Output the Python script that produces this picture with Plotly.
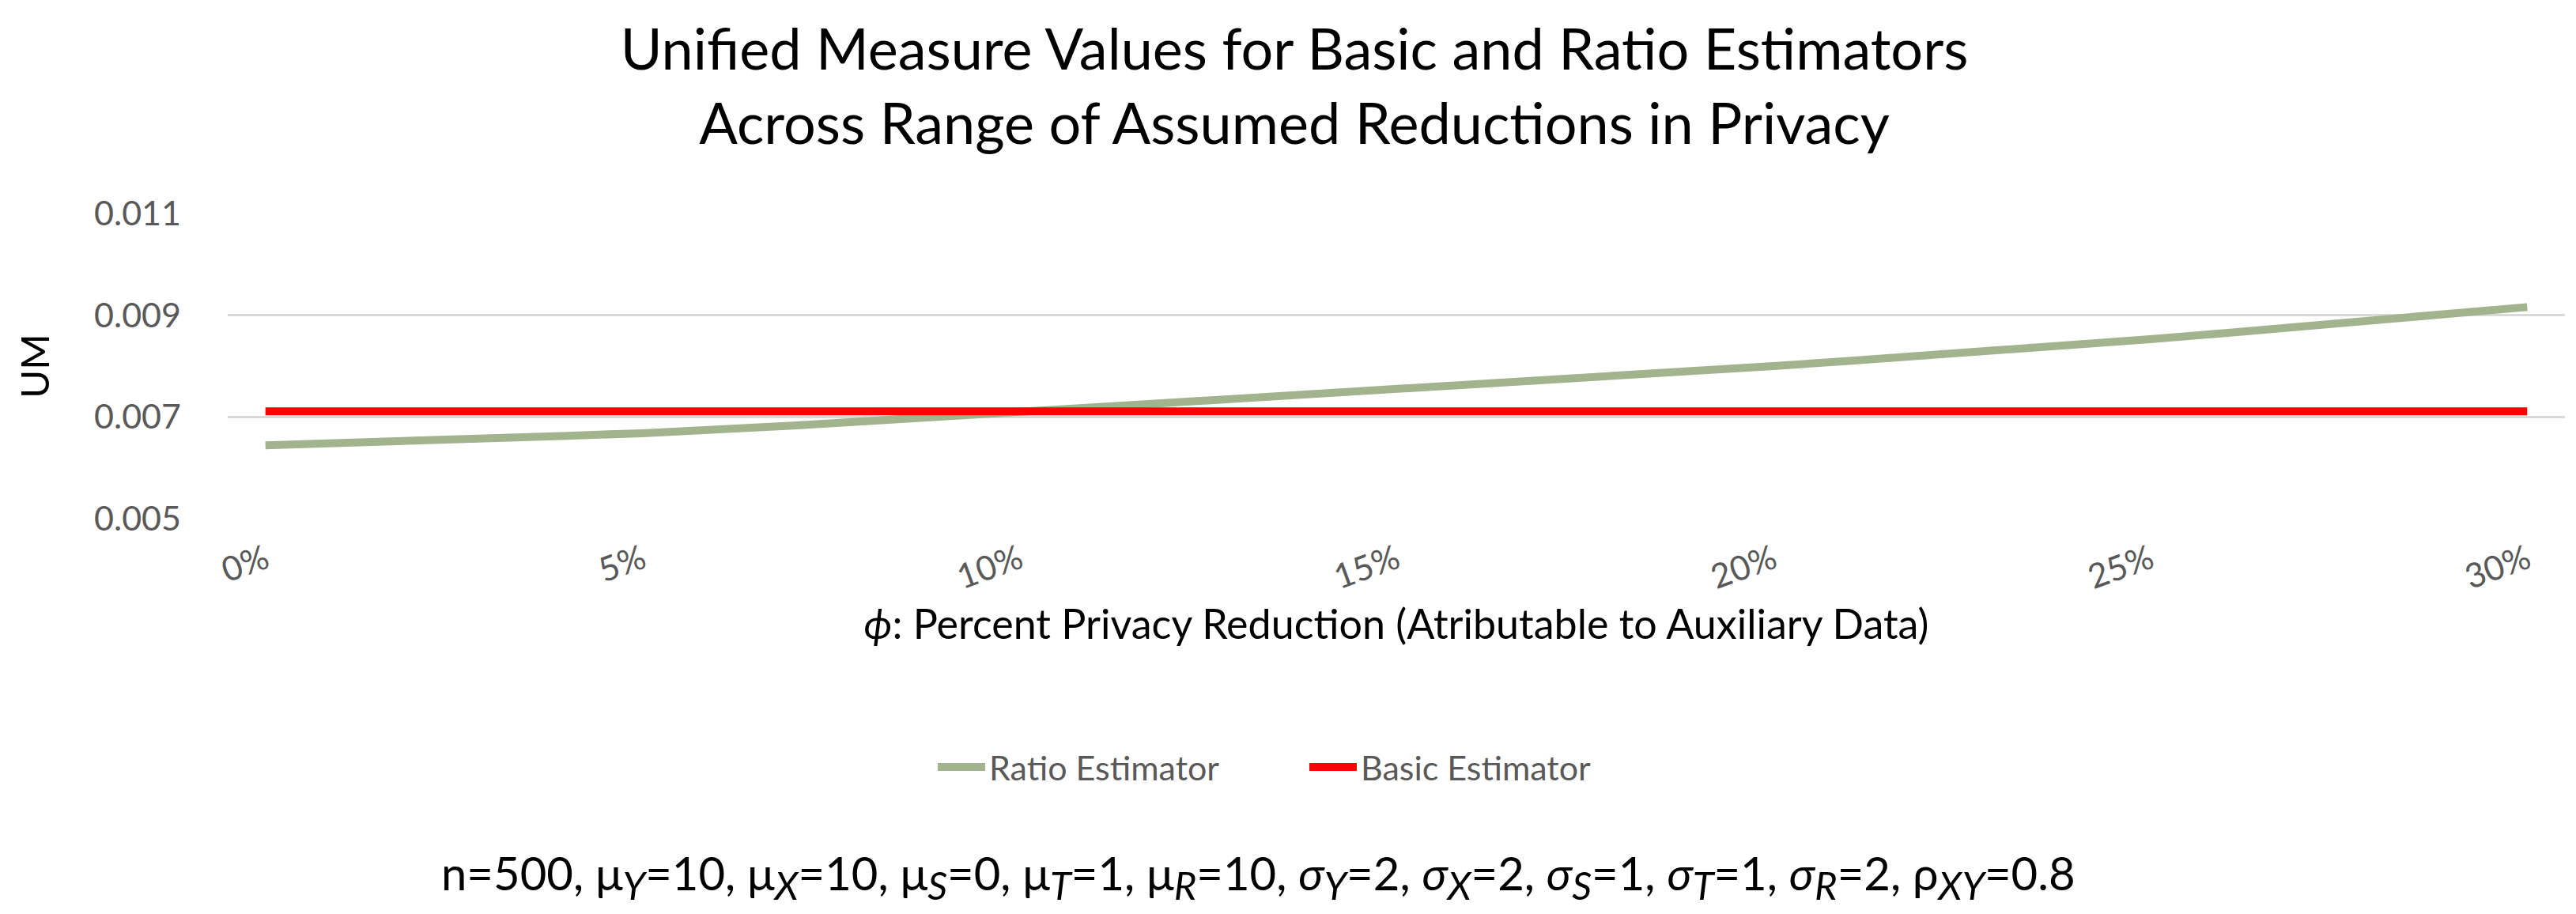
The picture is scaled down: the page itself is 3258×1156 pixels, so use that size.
import plotly.graph_objects as go

# ---- data ----
phi_percent = [0, 1, 2, 3, 4, 5, 6, 7, 8, 9, 10, 11, 12, 13, 14, 15,
               16, 17, 18, 19, 20, 21, 22, 23, 24, 25, 26, 27, 28, 29, 30]
ratio_um = [0.00644, 0.00648, 0.00653, 0.00658, 0.00663, 0.00668, 0.00674,
            0.00683, 0.00692, 0.00701, 0.00710, 0.00718, 0.00726, 0.00734,
            0.00743, 0.00752, 0.00761, 0.00771, 0.00781, 0.00790, 0.00800,
            0.00810, 0.00820, 0.00830, 0.00841, 0.00853, 0.00865, 0.00878,
            0.00890, 0.00903, 0.00916]
basic_um = [0.00711, 0.00711, 0.00711, 0.00711, 0.00711, 0.00711, 0.00711,
            0.00711, 0.00711, 0.00711, 0.00711, 0.00711, 0.00711, 0.00711,
            0.00711, 0.00711, 0.00711, 0.00711, 0.00711, 0.00711, 0.00711,
            0.00711, 0.00711, 0.00711, 0.00711, 0.00711, 0.00711, 0.00711,
            0.00711, 0.00711, 0.00711]
x_tick_vals = [0, 5, 10, 15, 20, 25, 30]
x_tick_text = ["0%", "5%", "10%", "15%", "20%", "25%", "30%"]
y_tick_vals = [0.005, 0.007, 0.009, 0.011]
y_tick_text = ["0.005", "0.007", "0.009", "0.011"]
series_names = ["Ratio Estimator", "Basic Estimator"]

W, H = 3258, 1156
L, R, T, B = 280, 22, 262, 508
FONT = "Lato, 'Noto Sans', sans-serif"
GREY = "#595959"

def px_to_paper_x(px):
    return (px - L) / (W - L - R)

def px_to_paper_y(py):
    return (H - B - py) / (H - T - B)

fig = go.Figure()
fig.add_trace(go.Scatter(x=phi_percent, y=ratio_um, mode="lines",
                         name=series_names[0],
                         line=dict(color="#A2B48D", width=10)))
fig.add_trace(go.Scatter(x=phi_percent, y=basic_um, mode="lines",
                         name=series_names[1],
                         line=dict(color="#FF0000", width=10)))

fig.update_layout(
    width=W, height=H, autosize=False,
    margin=dict(l=L, r=R, t=T, b=B),
    paper_bgcolor="white", plot_bgcolor="white",
    font=dict(family=FONT, color=GREY),
    title=dict(text="Unified Measure Values for Basic and Ratio Estimators<br>"
                    "Across Range of Assumed Reductions in Privacy",
               x=0.5, xref="container", xanchor="center",
               y=1 - 80 / H, yref="container", yanchor="top",
               font=dict(family=FONT, size=72, color="#000000")),
    showlegend=True,
    legend=dict(orientation="h", xref="container", x=1173 / W, xanchor="left",
                yref="container", y=1 - 962 / H, yanchor="middle",
                font=dict(family=FONT, size=43, color=GREY),
                itemwidth=60, entrywidth=395, entrywidthmode="pixels",
                bgcolor="rgba(0,0,0,0)"),
)

fig.update_xaxes(range=[-0.5, 30.5], tickmode="array",
                 tickvals=x_tick_vals, ticktext=x_tick_text,
                 tickangle=-20, showgrid=False, zeroline=False,
                 showline=False, ticks="", ticklabelstandoff=18,
                 tickfont=dict(family=FONT, size=43, color=GREY),
                 title=dict(text="<i>ϕ</i>: Percent Privacy Reduction (Atributable to Auxiliary Data)",
                            font=dict(family=FONT, size=52, color="#000000"),
                            standoff=18))
fig.update_yaxes(range=[0.005, 0.011], tickmode="array",
                 tickvals=y_tick_vals, ticktext=y_tick_text,
                 showgrid=True, gridcolor="#D9D9D9", gridwidth=3,
                 zeroline=False, showline=False, ticks="",
                 ticklabelstandoff=58,
                 tickfont=dict(family=FONT, size=43, color=GREY),
                 title=dict(text="UM",
                            font=dict(family=FONT, size=49, color="#000000"),
                            standoff=40))

def sub(s):
    return '<sub><span style="font-size:49px"><i>' + s + '</i></span></sub>'

note = ("n=500, μ" + sub("Y") + "=10, μ" + sub("X") + "=10, "
        "μ" + sub("S") + "=0, μ" + sub("T") + "=1, μ" + sub("R") + "=10, "
        "<i>σ</i>" + sub("Y") + "=2, <i>σ</i>" + sub("X") + "=2, "
        "<i>σ</i>" + sub("S") + "=1, <i>σ</i>" + sub("T") + "=1, "
        "<i>σ</i>" + sub("R") + "=2, ρ" + sub("XY") + "=0.8")
fig.add_annotation(text=note, xref="paper", yref="paper",
                   x=px_to_paper_x(1583), y=px_to_paper_y(1100),
                   xanchor="center", yanchor="middle", showarrow=False,
                   font=dict(family=FONT, size=58, color="#000000"))

fig.write_html("out.html")
